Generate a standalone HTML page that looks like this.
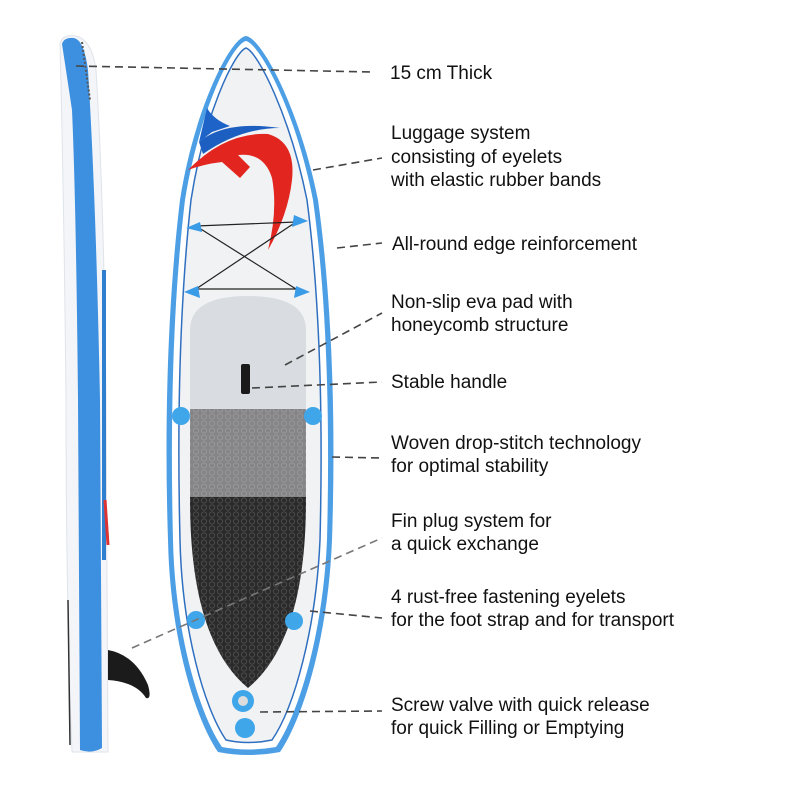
<!DOCTYPE html>
<html><head><meta charset="utf-8"><style>
html,body{margin:0;padding:0;background:#fff;width:800px;height:800px;overflow:hidden}
text{font-family:"Liberation Sans",Arial,sans-serif;font-size:19px;fill:#111}
</style></head><body>
<svg width="800" height="800" viewBox="0 0 800 800" xmlns="http://www.w3.org/2000/svg">
<defs>
<pattern id="hc" width="8" height="7" patternUnits="userSpaceOnUse">
<circle cx="4" cy="3.5" r="2.6" fill="none" stroke="rgba(255,255,255,0.15)" stroke-width="1"/>
</pattern>
<clipPath id="padclip">
<path d="M190 330 Q190 296 248 296 Q306 296 306 330 L306 500 Q306 640 248 688 Q190 640 190 500 Z"/>
</clipPath>
</defs>

<!-- side view -->
<path d="M60 44 Q62 34 76 36 Q92 40 96 70 Q104 200 106 400 L108 752 L72 752 Q66 600 66 400 Q64 200 60 44 Z" fill="#f3f5f8" stroke="#dfe4ea"/>
<path d="M62 44 Q64 37 74 38 Q84 40 88 70 Q96 200 100 400 L102 748 Q92 754 80 750 L78 400 Q76 200 72 110 Q66 70 62 44 Z" fill="#3d8fe0"/>
<path d="M102 270 L106 270 L106 560 L102 560 Z" fill="#2f7fd0"/>
<path d="M105 500 L108 545" stroke="#d33" stroke-width="3"/>
<path d="M82 42 L90 100" stroke="#555" stroke-width="2" stroke-dasharray="2 2"/>
<path d="M68 600 L70 745" stroke="#333" stroke-width="1.5"/>
<path d="M108 650 Q135 655 148 685 Q152 700 146 698 Q136 682 108 680 Z" fill="#1b1b1b"/>

<!-- main board -->
<path d="M246 36 C262 38 300 110 318 200 C332 300 336 420 332 540 C328 640 302 720 280 752 Q248 758 218 752 C196 720 170 640 168 540 C164 420 168 300 180 200 C194 110 230 38 246 36 Z" fill="#4d9fe5"/>
<path d="M246 41 C260 44 296 112 313 200 C327 300 330 420 327 540 C323 635 298 715 276 747 Q248 752 222 747 C200 715 175 635 173 540 C170 420 173 300 185 200 C199 112 232 44 246 41 Z" fill="#fff"/>
<path d="M246 48 C258 52 290 116 307 200 C320 300 323 420 320 540 C316 630 294 708 272 740 Q248 745 226 740 C204 708 182 630 180 540 C177 420 180 300 191 200 C204 116 234 52 246 48 Z" fill="#f1f2f4" stroke="#2f6fc0" stroke-width="1.5"/>

<!-- logo -->
<path d="M207 108 Q214 120 230 126 L212 132 L199 142 Z" fill="#1e63c8"/>
<path d="M199 142 Q225 120 280 128 Q240 128 203 154 Z" fill="#1d5fc0"/>
<path d="M188 170 Q225 132 268 134 Q296 142 292 180 Q288 215 268 250 Q278 210 272 178 Q264 152 238 155 L250 167 L240 178 L222 162 Q204 164 188 170 Z" fill="#e2261f"/>

<!-- bungee -->
<g stroke="#222" stroke-width="1.2">
<line x1="196" y1="226" x2="296" y2="222"/>
<line x1="196" y1="289" x2="296" y2="289"/>
<line x1="196" y1="226" x2="296" y2="289"/>
<line x1="296" y1="222" x2="196" y2="289"/>
</g>
<g fill="#3a9be6">
<path d="M186 228 L200 222 L202 232 Z"/>
<path d="M308 221 L294 215 L292 227 Z"/>
<path d="M184 292 L198 286 L200 298 Z"/>
<path d="M310 292 L296 286 L294 298 Z"/>
</g>

<!-- pad -->
<g clip-path="url(#padclip)">
<rect x="185" y="290" width="130" height="120" fill="#d9dde1"/>
<rect x="185" y="409" width="130" height="88" fill="#858587"/>
<rect x="185" y="497" width="130" height="200" fill="#2a2a2b"/>
<rect x="185" y="409" width="130" height="290" fill="url(#hc)"/>
</g>
<rect x="241" y="364" width="9" height="30" rx="2" fill="#1a1a1a"/>

<!-- eyelets -->
<g fill="#3fa6ea">
<circle cx="181" cy="416" r="9"/><circle cx="313" cy="416" r="9"/>
<circle cx="196" cy="620" r="9"/><circle cx="294" cy="621" r="9"/>
<circle cx="243" cy="701" r="11"/><circle cx="245" cy="728" r="10"/>
</g>
<circle cx="243" cy="701" r="5" fill="#ddd"/>

<!-- connectors -->
<g stroke="#444" stroke-width="1.6" stroke-dasharray="8 5" fill="none">
<line x1="76" y1="66" x2="372" y2="72"/>
<line x1="313" y1="170" x2="382" y2="158"/>
<line x1="337" y1="248" x2="382" y2="243"/>
<line x1="285" y1="365" x2="382" y2="313"/>
<line x1="252" y1="388" x2="382" y2="382"/>
<line x1="332" y1="457" x2="382" y2="458"/>
<line x1="310" y1="611" x2="382" y2="618"/>
<line x1="260" y1="712" x2="382" y2="711"/>
</g>
<line x1="132" y1="648" x2="382" y2="538" stroke="#777" stroke-width="1.6" stroke-dasharray="8 5"/>

<!-- labels -->
<text x="390" y="79">15 cm Thick</text>
<text x="391" y="139">Luggage system</text>
<text x="391" y="163">consisting of eyelets</text>
<text x="391" y="186">with elastic rubber bands</text>
<text x="392" y="250">All-round edge reinforcement</text>
<text x="391" y="308">Non-slip eva pad with</text>
<text x="391" y="331">honeycomb structure</text>
<text x="391" y="388">Stable handle</text>
<text x="391" y="449">Woven drop-stitch technology</text>
<text x="391" y="472">for optimal stability</text>
<text x="391" y="527">Fin plug system for</text>
<text x="391" y="550">a quick exchange</text>
<text x="391" y="603">4 rust-free fastening eyelets</text>
<text x="391" y="626">for the foot strap and for transport</text>
<text x="391" y="711">Screw valve with quick release</text>
<text x="391" y="734">for quick Filling or Emptying</text>
</svg>
</body></html>
